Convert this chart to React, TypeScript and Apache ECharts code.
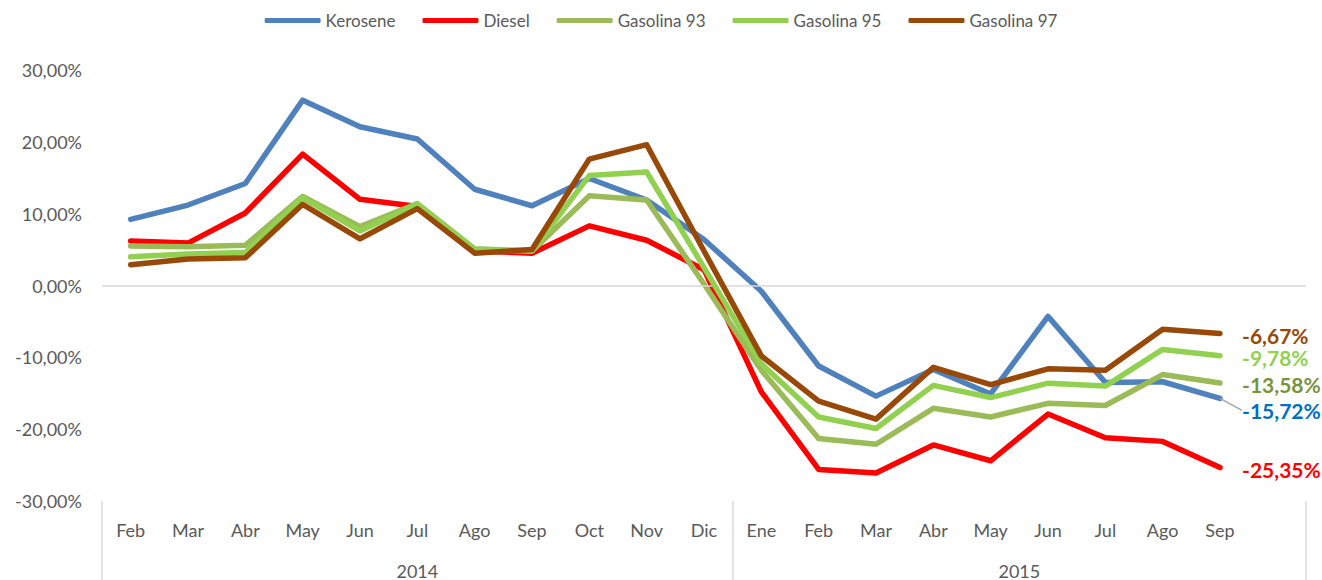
import React, { useEffect, useRef } from "react";
import * as echarts from "echarts";

const months2014 = ["Feb", "Mar", "Abr", "May", "Jun", "Jul", "Ago", "Sep", "Oct", "Nov", "Dic"];
const months2015 = ["Ene", "Feb", "Mar", "Abr", "May", "Jun", "Jul", "Ago", "Sep", ""];
const years = ["2014", "2015"];

const kerosene = [9.2, 11.2, 14.2, 25.8, 22.1, 20.4, 13.4, 11.1, 14.9, 11.9, 6.4, -0.8, -11.2, -15.4, -11.7, -15.1, -4.3, -13.5, -13.4, -15.72];
const diesel = [6.2, 5.9, 10.1, 18.3, 12.0, 11.0, 4.8, 4.5, 8.3, 6.3, 2.2, -14.8, -25.6, -26.1, -22.2, -24.4, -17.9, -21.2, -21.7, -25.35];
const gasolina93 = [5.5, 5.4, 5.6, 12.4, 8.2, 11.4, 5.1, 4.8, 12.5, 11.9, 0.2, -11.8, -21.3, -22.1, -17.1, -18.3, -16.4, -16.7, -12.4, -13.58];
const gasolina95 = [4.0, 4.4, 4.6, 12.2, 7.6, 11.3, 5.0, 4.8, 15.3, 15.8, 2.5, -10.9, -18.3, -19.9, -13.9, -15.6, -13.6, -14.0, -8.9, -9.78];
const gasolina97 = [2.9, 3.7, 3.85, 11.3, 6.5, 10.7, 4.5, 5.0, 17.6, 19.6, 4.8, -9.8, -16.1, -18.6, -11.4, -13.8, -11.6, -11.8, -6.1, -6.67];

const seriesDefs = [
  { name: "Kerosene", data: kerosene, color: "#4F81BD", labelColor: "#0070C0", dy: 12, line: true },
  { name: "Diesel", data: diesel, color: "#FF0000", labelColor: "#FF0000", dy: 2, line: false },
  { name: "Gasolina 93", data: gasolina93, color: "#9BBB59", labelColor: "#77933C", dy: 1, line: false },
  { name: "Gasolina 95", data: gasolina95, color: "#92D050", labelColor: "#92D050", dy: 2, line: false },
  { name: "Gasolina 97", data: gasolina97, color: "#984807", labelColor: "#984807", dy: 2, line: false },
];

const FONT = "Lato, 'Open Sans', sans-serif";
const fmt = (v: number) => v.toFixed(2).replace(".", ",") + "%";

export default function App() {
  const ref = useRef<HTMLDivElement>(null);
  useEffect(() => {
    if (!ref.current) return;
    const chart = echarts.init(ref.current, null, { renderer: "svg" });
    const categories = [...months2014, ...months2015];
    const total = categories.length;
    const bounds = [0, months2014.length, total];
    const yearCenters = [months2014.length / 2, months2014.length + months2015.length / 2];

    const series: any[] = seriesDefs.map((s, si) => ({
      name: s.name,
      type: "line",
      xAxisIndex: 0,
      yAxisIndex: 0,
      symbol: "circle",
      symbolSize: 0.1,
      showSymbol: true,
      lineStyle: { color: s.color, width: 5.5, cap: "round", join: "round" },
      itemStyle: { color: s.color },
      data: s.data.map((v, i) =>
        i === s.data.length - 1
          ? {
              value: v,
              label: {
                show: true,
                position: "right",
                distance: 22,
                formatter: () => fmt(v),
                color: s.labelColor,
                fontWeight: "bold",
                fontSize: 21,
                fontFamily: FONT,
              },
            }
          : v
      ),
      labelLayout: { dy: s.dy },
      labelLine: s.line
        ? { show: true, lineStyle: { color: "#A6A6A6", width: 1.5 } }
        : { show: false },
      markLine:
        si === 0
          ? {
              silent: true,
              symbol: "none",
              label: { show: false },
              lineStyle: { color: "#D9D9D9", width: 1.5, type: "solid" },
              data: [{ yAxis: 0 }],
            }
          : undefined,
      z: 2 + si,
    }));

    chart.setOption({
      animation: false,
      backgroundColor: "#fff",
      legend: {
        top: 7,
        left: "center",
        itemWidth: 56,
        itemHeight: 5,
        itemGap: 27,
        icon: "roundRect",
        textStyle: { color: "#595959", fontSize: 17, fontFamily: FONT },
        data: seriesDefs.map((s) => s.name),
      },
      grid: { left: 102, right: 16, top: 70, bottom: 78, containLabel: false },
      xAxis: [
        {
          type: "category",
          data: categories,
          boundaryGap: true,
          position: "bottom",
          axisLine: { show: false },
          axisTick: { show: false },
          splitLine: { show: false },
          axisLabel: {
            interval: 0,
            margin: 20,
            color: "#595959",
            fontSize: 18,
            fontFamily: FONT,
          },
        },
        {
          type: "value",
          min: 0,
          max: total,
          position: "bottom",
          axisLine: { show: false },
          splitLine: { show: false },
          axisTick: {
            show: true,
            customValues: bounds,
            length: 80,
            lineStyle: { color: "#D9D9D9", width: 1.5 },
          },
          axisLabel: {
            show: true,
            customValues: yearCenters,
            margin: 61,
            formatter: (v: number) => {
              const idx = yearCenters.indexOf(v);
              return idx >= 0 ? years[idx] : "";
            },
            color: "#595959",
            fontSize: 18,
            fontFamily: FONT,
          },
        },
      ],
      yAxis: {
        type: "value",
        min: -30,
        max: 30,
        interval: 10,
        axisLine: { show: false },
        axisTick: { show: false },
        splitLine: { show: false },
        axisLabel: {
          margin: 20,
          formatter: (v: number) => fmt(v),
          color: "#595959",
          fontSize: 18,
          fontFamily: FONT,
        },
      },
      series,
    });
    return () => chart.dispose();
  }, []);
  return (
    <div
      ref={ref}
      style={{ position: "absolute", left: 0, top: 0, width: 1322, height: 580 }}
    />
  );
}
